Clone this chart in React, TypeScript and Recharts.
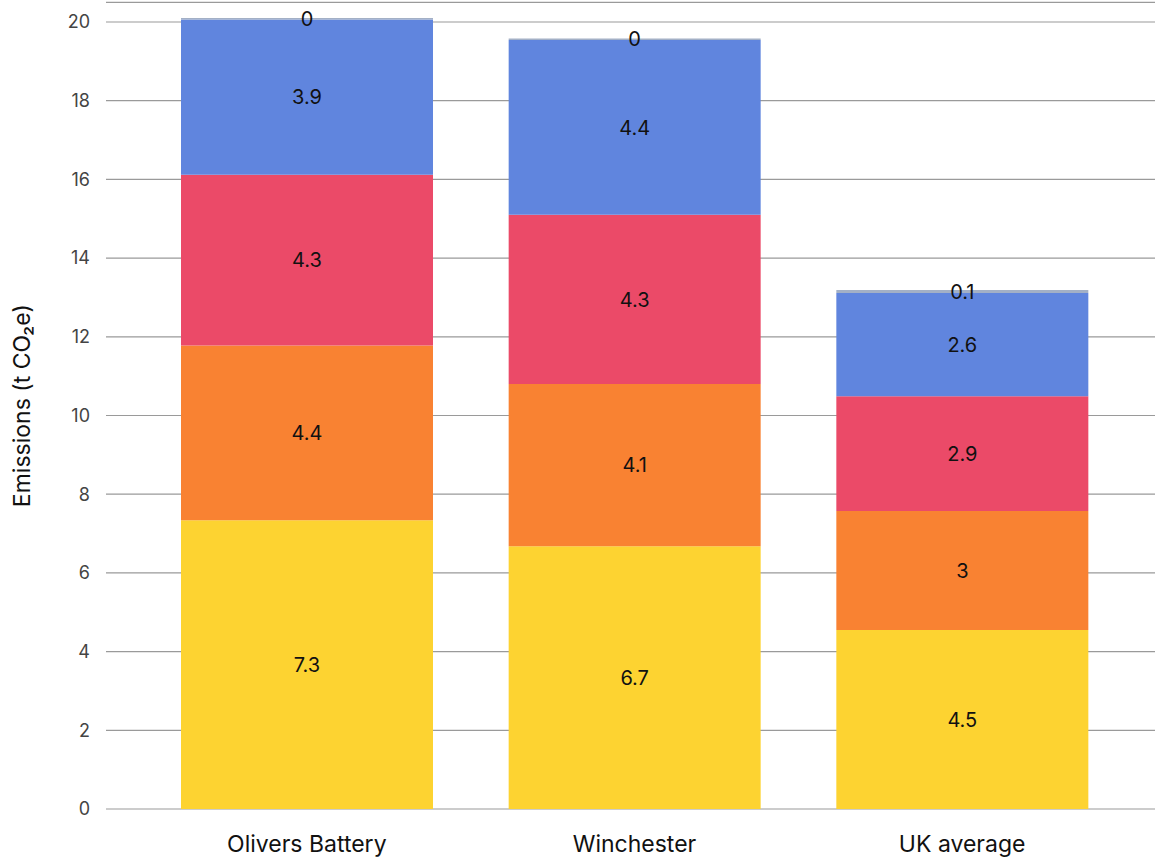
import React from 'react';
import { BarChart, Bar, XAxis, YAxis, CartesianGrid, LabelList } from 'recharts';

const places = ['Olivers Battery', 'Winchester', 'UK average'];
const yellowVals = [7.34, 6.68, 4.55];
const orangeVals = [4.44, 4.12, 3.02];
const redVals = [4.34, 4.3, 2.92];
const blueVals = [3.94, 4.44, 2.62];
const greyVals = [0.04, 0.04, 0.08];
const yTicks = [0, 2, 4, 6, 8, 10, 12, 14, 16, 18, 20];

const series = [
  { key: 'yellow', color: '#FDD331' },
  { key: 'orange', color: '#F98232' },
  { key: 'red', color: '#EB4A68' },
  { key: 'blue', color: '#6085DE' },
  { key: 'grey', color: '#A3B0C6' },
];

const data = places.map((name, i) => ({
  name,
  yellow: yellowVals[i],
  orange: orangeVals[i],
  red: redVals[i],
  blue: blueVals[i],
  grey: greyVals[i],
}));

// one decimal, trailing zero dropped (0.0 -> 0)
const fmt = (v: any) => String(Number(Number(v).toFixed(1)));

const font = 'Inter, "Noto Sans", sans-serif';

export default function App() {
  return (
    <div style={{ position: 'absolute', left: 0, top: 0, width: 1155, height: 860, background: '#fff', fontFamily: font }}>
      <BarChart
        width={1155}
        height={860}
        data={data}
        margin={{ top: 2.3, right: 0, bottom: 0, left: 0 }}
        barSize={252}
      >
        <CartesianGrid vertical={false} stroke="#9a9a9a" strokeWidth={1.2} />
        <XAxis
          dataKey="name"
          axisLine={false}
          tickLine={false}
          height={51}
          tickMargin={21}
          padding={{ left: 37, right: 29 }}
          tick={{ fill: '#111', fontSize: 23, fontFamily: font }}
        />
        <YAxis
          domain={[0, 20.5]}
          ticks={yTicks}
          width={106}
          axisLine={false}
          tickLine={false}
          tickMargin={10}
          tick={{ fill: '#444', fontSize: 18, fontFamily: font }}
          label={{
            value: 'Emissions (t CO₂e)',
            angle: -90,
            position: 'center',
            dx: -31,
            style: { fill: '#111', fontSize: 23, fontFamily: font, textAnchor: 'middle' },
          }}
        />
        {series.map((s) => (
          <Bar key={s.key} dataKey={s.key} stackId="a" fill={s.color} isAnimationActive={false}>
            <LabelList
              dataKey={s.key}
              position="center"
              formatter={fmt}
              style={{ fill: '#111', fontSize: 20, fontFamily: font }}
            />
          </Bar>
        ))}
      </BarChart>
    </div>
  );
}
